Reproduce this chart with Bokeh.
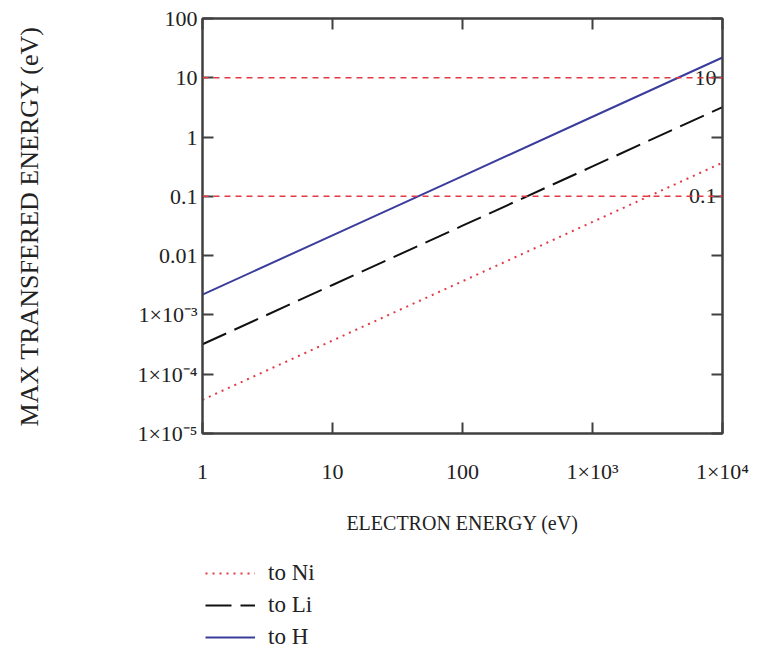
from bokeh.plotting import figure
from bokeh.layouts import column
from bokeh.models import (LogAxis, FixedTicker, CustomJSTickFormatter, Span,
                          Legend, LegendItem, Range1d)
from bokeh.embed import file_html
from bokeh.resources import INLINE
from bokeh.core.properties import value

# ---- data ----
electron_energy = [1, 10, 100, 1000, 10000]
to_ni = [3.7e-5, 3.7e-4, 3.7e-3, 0.037, 0.37]
to_li = [3.2e-4, 3.2e-3, 0.032, 0.32, 3.2]
to_h = [2.2e-3, 0.022, 0.22, 2.2, 22]

ref_levels = [10, 0.1]
ref_labels = ["10", "0.1"]

x_tick_exps = [0, 1, 2, 3, 4]
x_tick_labels = ["1", "10", "100", "1×10³", "1×10⁴"]
y_tick_exps = [-5, -4, -3, -2, -1, 0, 1, 2]
y_tick_labels = ["1×10⁻⁵", "1×10⁻⁴", "1×10⁻³", "0.01", "0.1", "1", "10", "100"]

series_labels = ["to Ni", "to Li", "to H"]

x_ticks = [10.0 ** e for e in x_tick_exps]
y_ticks = [10.0 ** e for e in y_tick_exps]

FONT = "Liberation Serif"
AXIS_COLOR = "#404040"
TEXT_COLOR = "#222222"
RED = "#e23a44"
BLUE = "#3a3d9c"
BLACK = "#111111"

styles = [dict(line_color=RED, line_dash="2 5", line_width=2),
          dict(line_color=BLACK, line_dash="26 9", line_width=2),
          dict(line_color=BLUE, line_width=2)]
series = [to_ni, to_li, to_h]

p = figure(width=762, height=545, x_axis_type="log", y_axis_type="log",
           x_range=Range1d(x_ticks[0], x_ticks[-1]),
           y_range=Range1d(y_ticks[0], y_ticks[-1]),
           output_backend="svg", toolbar_location=None,
           min_border_left=202, min_border_right=40,
           min_border_top=18, min_border_bottom=112)
p.grid.visible = False
p.outline_line_color = AXIS_COLOR
p.outline_line_width = 2


def fmt(exps, labels):
    return CustomJSTickFormatter(args=dict(exps=exps, labels=labels), code="""
        const e = Math.round(Math.log10(tick));
        const i = exps.indexOf(e);
        return i >= 0 ? labels[i] : "";
    """)


def style_axis(ax, ticks):
    ax.ticker = FixedTicker(ticks=ticks)
    ax.major_tick_in = 11
    ax.major_tick_out = 0
    ax.minor_tick_in = 0
    ax.minor_tick_out = 0
    ax.axis_line_color = AXIS_COLOR
    ax.axis_line_width = 2
    ax.major_tick_line_color = AXIS_COLOR
    ax.major_tick_line_width = 2
    ax.major_label_text_font = FONT
    ax.major_label_text_font_size = "22px"
    ax.major_label_text_color = TEXT_COLOR
    ax.axis_label_text_font = FONT
    ax.axis_label_text_font_size = "20px"
    ax.axis_label_text_font_style = "normal"
    ax.axis_label_text_color = TEXT_COLOR


xa = p.xaxis[0]
style_axis(xa, x_ticks)
xa.formatter = fmt(x_tick_exps, x_tick_labels)
xa.major_label_standoff = 25
xa.axis_label = "ELECTRON ENERGY (eV)"
xa.axis_label_standoff = 25

ya = p.yaxis[0]
style_axis(ya, y_ticks)
ya.formatter = fmt(y_tick_exps, y_tick_labels)
ya.major_label_standoff = 5
ya.axis_label = "MAX TRANSFERED ENERGY (eV)"
ya.axis_label_text_font_size = "26px"
ya.axis_label_standoff = 90

blank = CustomJSTickFormatter(code="return '';")
top = LogAxis()
style_axis(top, x_ticks)
top.formatter = blank
top.major_label_standoff = 0
p.add_layout(top, "above")

right = LogAxis()
style_axis(right, y_ticks)
right.formatter = blank
right.major_label_standoff = 0
p.add_layout(right, "right")

# reference levels
for lv in ref_levels:
    p.add_layout(Span(location=lv, dimension="width", line_color=RED,
                      line_dash="6 5", line_width=1.5))
p.text(x=[x_ticks[-1]] * len(ref_levels), y=ref_levels, text=ref_labels,
       text_align="right", text_baseline="middle", x_offset=-6,
       text_font=value(FONT), text_font_size="22px", text_color=TEXT_COLOR)

# series
for ys, st in zip(series, styles):
    p.line(electron_energy, ys, **st)

# legend panel below the chart (a second, frameless figure)
leg = figure(width=762, height=105, output_backend="svg", toolbar_location=None,
             x_axis_location=None, y_axis_location=None,
             x_axis_type="log", y_axis_type="log",
             x_range=Range1d(1e-9, 1e-8), y_range=Range1d(1e-9, 1e-8),
             min_border=0)
leg.grid.visible = False
leg.outline_line_color = None
items = []
for ys, st, lab in zip(series, styles, series_labels):
    r = leg.line(electron_energy, ys, **st)
    items.append(LegendItem(label=lab, renderers=[r]))

legend = Legend(items=items, location=(3, 0), orientation="vertical",
                background_fill_alpha=0, border_line_alpha=0,
                padding=0, margin=0, spacing=6,
                glyph_width=50, glyph_height=22, label_height=22,
                label_standoff=13, label_text_font="'Liberation Serif', serif",
                label_text_font_style="normal",
                label_text_font_size="23px", label_text_color=TEXT_COLOR)
leg.add_layout(legend)

layout = column(p, leg, spacing=0)
open("out.html", "w").write(file_html(layout, INLINE))
